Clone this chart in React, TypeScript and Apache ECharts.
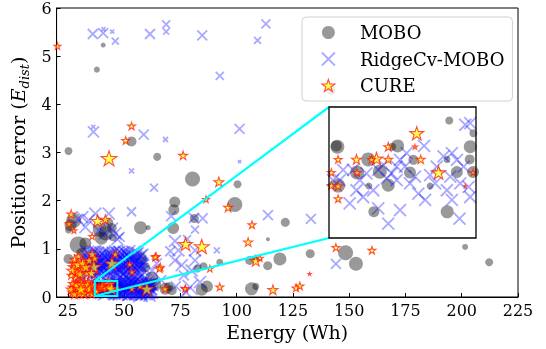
import React, { useEffect, useRef } from 'react';
import * as echarts from 'echarts';

const xTicks = [25, 50, 75, 100, 125, 150, 175, 200, 225];
const yTicks = [0, 1, 2, 3, 4, 5, 6];
const xRange = [20, 225];
const yRange = [0, 6];
const zoomX = [37, 47];
const zoomY = [0.02, 0.33];
const seriesNames = ['MOBO', 'RidgeCv-MOBO', 'CURE'];

// [energy, position error, marker size]
const moboPoints = [
  [40.7, 5.23, 5], [37.9, 4.72, 6], [25.3, 3.03, 8], [53.3, 3.23, 10], [64.7, 2.91, 8],
  [80.4, 2.45, 15], [100.4, 2.34, 8], [99.2, 1.92, 15], [72.5, 1.97, 11], [72.1, 1.81, 11],
  [71.8, 1.43, 12], [57.3, 1.44, 13], [60.7, 1.44, 5], [81.2, 1.63, 9], [121.6, 1.55, 9],
  [113.9, 1.2, 4], [132.7, 0.9, 9], [148.4, 0.92, 15], [153.0, 0.69, 14], [201.5, 1.04, 6],
  [212.2, 0.72, 8], [119.2, 0.79, 13], [113.8, 0.65, 9], [92.5, 0.72, 7], [105.8, 0.76, 9],
  [108.4, 0.81, 6], [85.3, 0.64, 8], [82.5, 0.59, 8], [106.6, 0.17, 13], [108.5, 0.22, 7],
  [84.5, 0.15, 12], [86.8, 0.22, 12], [68.4, 0.17, 12], [69.9, 0.22, 9], [62.2, 0.39, 13],
  [63.8, 0.26, 12], [58.4, 0.1, 9], [57.6, 0.8, 12], [29.6, 1.08, 17], [27.6, 1.59, 15],
  [25.3, 0.79, 10], [25.3, 1.39, 7], [39.2, 1.39, 14], [39.9, 1.22, 13], [43.0, 1.54, 10],
  [44.5, 1.43, 10], [45.0, 1.24, 8], [31.2, 0.91, 11], [34.5, 0.7, 12], [32.8, 1.11, 12],
  [41.7, 1.32, 14], [59.4, 0.62, 10], [61.6, 0.21, 12], [71.2, 0.14, 10], [141.9, 4.29, 9],
  [26.2, 1.49, 12], [31.0, 0.4, 9],
  [45.18, 0.298, 8], [46.82, 0.268, 8], [37.57, 0.236, 14], [37.5, 0.238, 11], [41.67, 0.238, 13],
  [41.3, 0.236, 8], [46.61, 0.236, 13], [39.67, 0.206, 14], [40.46, 0.177, 14], [38.91, 0.175, 14],
  [42.51, 0.175, 12], [42.74, 0.205, 10], [45.02, 0.206, 7], [46.57, 0.206, 10], [45.7, 0.176, 12],
  [46.8, 0.176, 12], [37.62, 0.144, 14], [39.71, 0.143, 7], [41.03, 0.145, 13], [43.88, 0.143, 7],
  [40.05, 0.082, 11], [45.04, 0.082, 13],
];

const ridgePoints = [
  [36.1, 5.46, 10], [40.7, 5.48, 10], [40.8, 5.56, 4], [44.7, 5.51, 4], [46.1, 5.31, 7],
  [61.5, 5.46, 10], [68.7, 5.66, 8], [68.7, 5.51, 6], [84.7, 5.43, 10], [92.5, 4.59, 8],
  [109.3, 5.33, 7], [113.0, 5.67, 9], [36.4, 3.43, 11], [36.3, 3.53, 4], [58.7, 3.37, 10],
  [68.4, 3.27, 5], [101.3, 3.49, 10], [53.3, 2.62, 5], [63.3, 2.27, 8], [101.3, 2.81, 3],
  [53.3, 1.77, 9], [70.9, 1.68, 10], [81.0, 1.64, 10], [84.9, 1.63, 10], [113.9, 1.7, 10],
  [133.0, 1.62, 10], [144.1, 0.69, 10], [91.2, 0.97, 6],
  [31.4, 1.66, 12], [34.3, 1.59, 12], [32.8, 1.45, 12], [37.2, 1.73, 12], [43.2, 1.73, 12],
  [44.6, 1.42, 12], [46.1, 1.32, 12], [47.0, 1.2, 12], [41.5, 1.32, 12], [38.8, 1.38, 12],
  [29.5, 1.62, 10], [48.0, 1.25, 10],
  [33.5, 0.85, 13], [35.0, 0.75, 13], [36.5, 0.88, 13], [37.5, 0.65, 13], [38.5, 0.8, 13],
  [39.5, 0.55, 13], [40.0, 0.9, 13], [41.0, 0.7, 13], [42.0, 0.82, 13], [43.0, 0.6, 13],
  [43.5, 0.9, 13], [44.5, 0.78, 13], [45.5, 0.55, 13], [46.5, 0.72, 13], [47.5, 0.85, 13],
  [48.5, 0.62, 13], [49.0, 0.78, 13], [50.0, 0.5, 13], [51.0, 0.7, 13], [52.0, 0.85, 13],
  [53.0, 0.6, 13], [54.0, 0.75, 13], [55.0, 0.55, 13], [56.0, 0.8, 13], [57.0, 0.65, 13],
  [34.5, 0.62, 13], [38.0, 0.5, 12], [41.5, 0.5, 12], [46.0, 0.95, 12], [50.5, 0.92, 12],
  [53.5, 0.45, 11], [55.5, 0.9, 11], [58.5, 0.72, 10],
  [33.8, 0.68, 12], [34.8, 0.92, 12], [35.6, 0.55, 12], [36.2, 0.78, 12], [37.0, 0.95, 12],
  [37.8, 0.72, 12], [38.8, 0.6, 12], [39.2, 0.86, 12], [40.4, 0.66, 12], [41.3, 0.92, 12],
  [42.4, 0.56, 12], [42.8, 0.74, 12], [43.8, 0.84, 12], [44.2, 0.64, 12], [45.0, 0.92, 12],
  [45.8, 0.68, 12], [46.8, 0.58, 12], [47.2, 0.78, 12], [48.0, 0.94, 12], [48.8, 0.52, 12],
  [49.6, 0.66, 12], [50.2, 0.84, 12], [51.4, 0.58, 12], [51.8, 0.76, 12], [52.6, 0.5, 12],
  [53.4, 0.88, 12], [54.4, 0.62, 12], [55.2, 0.74, 12], [56.4, 0.6, 12], [57.4, 0.86, 12],
  [32.5, 0.62, 12], [33.2, 0.78, 12], [34.1, 0.48, 12], [35.3, 0.66, 12], [36.0, 0.94, 12],
  [36.8, 0.52, 12], [37.4, 0.84, 12], [38.2, 0.69, 12], [39.0, 0.47, 12], [39.8, 0.77, 12],
  [40.6, 0.58, 12], [41.6, 0.83, 12], [42.2, 0.68, 12], [43.2, 0.51, 12], [43.9, 0.72, 12],
  [44.8, 0.87, 12], [45.3, 0.63, 12], [46.2, 0.49, 12], [46.9, 0.91, 12], [47.8, 0.69, 12],
  [48.3, 0.82, 12], [49.3, 0.58, 12], [49.9, 0.93, 12], [50.7, 0.64, 12], [51.6, 0.86, 12],
  [52.3, 0.71, 12], [53.1, 0.53, 12], [53.8, 0.81, 12], [54.7, 0.69, 12], [55.6, 0.47, 12],
  [56.1, 0.91, 12], [56.9, 0.73, 12], [57.7, 0.58, 12], [58.2, 0.88, 12], [55.9, 0.64, 12],
  [50.9, 0.54, 12], [44.1, 0.57, 12], [39.9, 0.64, 12], [36.9, 0.71, 12], [34.0, 0.8, 12],
  [33.0, 0.55, 14], [33.6, 0.92, 14], [34.6, 0.7, 14], [35.2, 0.86, 14], [35.9, 0.6, 14],
  [36.6, 0.46, 14], [37.2, 0.76, 14], [37.9, 0.9, 14], [38.6, 0.52, 14], [39.4, 0.7, 14],
  [40.2, 0.82, 14], [40.8, 0.48, 14], [41.8, 0.62, 14], [42.6, 0.91, 14], [43.4, 0.78, 14],
  [44.0, 0.46, 14], [44.9, 0.66, 14], [45.6, 0.81, 14], [46.4, 0.61, 14], [47.0, 0.5, 14],
  [47.9, 0.58, 14], [48.6, 0.9, 14], [49.5, 0.47, 14], [50.3, 0.73, 14], [51.1, 0.62, 14],
  [51.9, 0.93, 14], [52.8, 0.79, 14], [53.6, 0.66, 14], [54.2, 0.92, 14], [55.0, 0.82, 14],
  [55.8, 0.56, 14], [56.6, 0.68, 14], [57.3, 0.5, 14], [58.0, 0.64, 14],
  [47.5, 0.25, 13], [48.5, 0.12, 13], [49.5, 0.2, 13], [50.5, 0.08, 13], [51.5, 0.28, 13],
  [52.5, 0.15, 13], [53.5, 0.22, 13], [54.5, 0.1, 13], [55.5, 0.26, 13], [56.5, 0.14, 13],
  [57.5, 0.2, 13], [58.5, 0.28, 12], [59.5, 0.12, 12], [60.5, 0.24, 12], [61.5, 0.08, 11],
  [48.0, 0.33, 12], [52.0, 0.35, 12], [56.0, 0.36, 12], [36.0, 0.28, 12], [35.0, 0.12, 12],
  [45.0, 0.38, 12], [41.0, 0.4, 12], [38.5, 0.37, 12],
  [47.2, 0.14, 12], [48.2, 0.22, 12], [49.0, 0.06, 12], [49.8, 0.28, 12], [50.8, 0.18, 12],
  [51.2, 0.1, 12], [52.2, 0.26, 12], [53.0, 0.08, 12], [53.8, 0.3, 12], [54.8, 0.18, 12],
  [55.8, 0.06, 12], [56.2, 0.28, 12], [57.2, 0.12, 12], [58.0, 0.24, 12], [59.0, 0.18, 12],
  [60.0, 0.06, 12], [61.0, 0.28, 12], [62.0, 0.16, 12],
  [47.6, 0.05, 12], [48.7, 0.17, 12], [49.3, 0.31, 12], [50.1, 0.13, 12], [50.9, 0.24, 12],
  [51.8, 0.04, 12], [52.7, 0.2, 12], [53.3, 0.13, 12], [54.1, 0.26, 12], [54.9, 0.05, 12],
  [55.3, 0.15, 12], [56.0, 0.22, 12], [56.8, 0.07, 12], [57.6, 0.29, 12], [58.3, 0.11, 12],
  [58.8, 0.2, 12], [59.6, 0.27, 12], [60.3, 0.14, 12], [60.8, 0.21, 12], [61.3, 0.03, 12],
  [61.8, 0.25, 12], [62.4, 0.09, 12], [48.0, 0.28, 12], [52.9, 0.31, 12], [57.9, 0.05, 12],
  [47.4, 0.2, 14], [48.1, 0.09, 14], [48.9, 0.27, 14], [49.7, 0.1, 14], [50.4, 0.3, 14],
  [51.0, 0.19, 14], [51.7, 0.14, 14], [52.4, 0.07, 14], [53.2, 0.25, 14], [53.9, 0.16, 14],
  [54.6, 0.3, 14], [55.1, 0.09, 14], [55.9, 0.18, 14], [56.6, 0.25, 14], [57.3, 0.04, 14],
  [58.1, 0.17, 14], [58.7, 0.08, 14], [59.3, 0.23, 14], [60.1, 0.3, 14], [60.6, 0.1, 14],
  [61.4, 0.19, 14], [62.1, 0.27, 14],
  [48.5, 0.4, 12], [51.0, 0.44, 12], [54.0, 0.38, 12], [57.0, 0.42, 12], [59.5, 0.36, 12],
  [72.6, 1.16, 12], [74.1, 0.97, 12], [72.6, 0.76, 12], [81.5, 0.97, 12], [81.5, 0.76, 12],
  [75.6, 0.66, 12], [80.0, 0.55, 12], [83.7, 0.31, 12], [79.3, 0.2, 15], [77.5, 0.1, 12],
  [73.0, 0.22, 10], [76.5, 0.45, 10], [70.5, 0.95, 10], [78.0, 1.2, 8], [81.5, 1.4, 8],
  [66.5, 0.35, 10], [64.5, 0.7, 10], [62.5, 0.55, 10],
  [46.27, 0.288, 12], [46.61, 0.292, 12], [43.47, 0.238, 12], [42.28, 0.221, 12], [41.83, 0.205, 12],
  [41.6, 0.189, 12], [41.26, 0.173, 12], [40.92, 0.161, 12], [40.69, 0.193, 12], [40.35, 0.181, 12],
  [39.55, 0.173, 12], [39.1, 0.157, 12], [38.64, 0.181, 12], [37.96, 0.181, 12], [37.73, 0.157, 12],
  [37.27, 0.157, 12], [38.41, 0.102, 12], [38.87, 0.133, 12], [39.32, 0.117, 12], [41.03, 0.054, 12],
  [41.83, 0.086, 12], [40.35, 0.09, 12], [43.08, 0.125, 12], [43.54, 0.11, 12], [42.51, 0.149, 12],
  [42.85, 0.165, 12], [43.88, 0.169, 12], [44.33, 0.189, 12], [44.79, 0.213, 12], [45.36, 0.221, 12],
  [45.7, 0.205, 12], [46.16, 0.189, 12], [45.25, 0.165, 12], [45.02, 0.133, 12], [45.36, 0.11, 12],
  [45.88, 0.066, 12], [46.61, 0.117, 12], [46.5, 0.141, 12], [45.93, 0.149, 12], [44.22, 0.149, 12],
  [41.6, 0.157, 12], [42.17, 0.189, 12], [40.01, 0.133, 12],
];

const curePoints = [
  [20.4, 5.21, 7], [43.3, 2.88, 16], [53.3, 3.55, 8], [50.7, 3.25, 8], [76.2, 2.94, 9],
  [92.1, 2.39, 10], [86.4, 2.03, 7], [96.2, 1.86, 9], [77.3, 1.1, 14], [84.5, 1.05, 15],
  [92.5, 0.21, 8], [116.1, 0.15, 10], [126.4, 0.19, 8], [128.1, 0.23, 8], [106.8, 1.5, 8],
  [105.1, 1.14, 9], [108.5, 0.75, 11], [110.3, 0.81, 7], [88.1, 0.59, 7], [77.2, 0.18, 6],
  [66.1, 0.62, 8], [64.2, 0.84, 8], [65.7, 0.59, 8], [132.4, 0.48, 3], [144.1, 1.03, 8],
  [160.1, 0.97, 8],
  [26.5, 1.72, 9], [25.5, 1.52, 8], [27.7, 1.38, 6], [38.2, 1.58, 13], [41.7, 1.61, 10],
  [35.8, 1.26, 7],
  [28.4, 0.62, 15], [31.0, 0.58, 12], [36.5, 0.63, 15], [35.8, 0.89, 11], [29.0, 0.5, 10],
  [33.5, 0.5, 9], [27.5, 0.7, 9], [44.6, 0.7, 14], [46.1, 0.89, 8], [53.5, 0.52, 7],
  [63.8, 0.83, 8], [28.4, 0.39, 8], [32.0, 0.75, 8], [52.5, 0.68, 7],
  [27.0, 0.55, 11], [28.0, 0.78, 9], [29.5, 0.68, 12], [30.5, 0.48, 10], [31.5, 0.7, 11],
  [33.0, 0.62, 12], [34.5, 0.76, 10], [35.5, 0.5, 11], [37.0, 0.8, 9], [29.8, 0.85, 8],
  [26.5, 0.45, 8],
  [27.5, 0.2, 11], [29.0, 0.12, 12], [29.9, 0.22, 14], [31.5, 0.15, 12], [33.2, 0.18, 13],
  [34.5, 0.1, 11], [35.5, 0.24, 12], [27.0, 0.1, 9], [30.5, 0.3, 10], [32.5, 0.28, 10],
  [36.0, 0.14, 9], [28.5, 0.28, 9], [34.0, 0.32, 8],
  [26.5, 0.16, 10], [28.0, 0.06, 10], [28.8, 0.24, 12], [30.2, 0.08, 11], [31.0, 0.26, 12],
  [32.0, 0.08, 11], [32.8, 0.2, 12], [33.8, 0.26, 10], [34.8, 0.18, 12], [35.8, 0.06, 9],
  [36.4, 0.22, 10], [30.8, 0.16, 13], [27.0, 0.28, 8],
  [60.1, 0.17, 14], [68.2, 0.17, 8], [77.1, 0.17, 7], [53.5, 0.17, 7], [57.0, 0.22, 7],
  [42.97, 0.268, 14], [41.03, 0.236, 9], [42.85, 0.236, 5], [37.62, 0.206, 8], [38.87, 0.206, 10],
  [40.23, 0.208, 13], [41.03, 0.206, 9], [39.9, 0.206, 8], [43.24, 0.206, 9], [38.91, 0.175, 8],
  [37.16, 0.175, 8], [44.45, 0.175, 14], [46.8, 0.175, 6], [37.62, 0.143, 9], [37.16, 0.144, 8],
  [37.62, 0.113, 8], [46.27, 0.143, 3],
];

const FONT = 'DejaVu Serif';
const STAR = 'path://M50,0L61.2,34.5L97.6,34.5L68.2,55.9L79.4,90.5L50,69.1L20.6,90.5L31.8,55.9L2.4,34.5L38.8,34.5Z';
const CROSS = 'path://M0,0L10,10M10,0L0,10';

const INSET = { left: 329, top: 107, width: 147, height: 131 };

const moboStyle = { color: 'rgba(0,0,0,0.5)' };
const ridgeStyle = { color: 'rgba(0,0,0,0)', borderColor: 'rgba(0,0,255,0.42)', borderWidth: 1.8 };
const cureStyle = { color: 'rgba(255,255,0,0.85)', borderColor: 'rgba(255,0,0,0.85)', borderWidth: 1.1 };

function makeSeries(gridIdx: number) {
  const suffix = gridIdx === 0 ? '' : ' (zoom)';
  const z = gridIdx === 0 ? 2 : 5;
  const common = {
    type: 'scatter',
    xAxisIndex: gridIdx,
    yAxisIndex: gridIdx,
    symbolSize: (v: number[]) => v[2],
    emphasis: { disabled: true },
    silent: true,
    clip: true,
    z,
  };
  return [
    { ...common, name: seriesNames[0] + suffix, symbol: 'circle', itemStyle: moboStyle, data: moboPoints },
    { ...common, name: seriesNames[1] + suffix, symbol: CROSS, itemStyle: ridgeStyle, data: ridgePoints },
    { ...common, name: seriesNames[2] + suffix, symbol: STAR, symbolKeepAspect: true, itemStyle: cureStyle, data: curePoints },
  ];
}

export default function App() {
  const ref = useRef<HTMLDivElement>(null);
  useEffect(() => {
    if (!ref.current) return;
    const chart = echarts.init(ref.current, null, { renderer: 'svg' });
    const option: any = {
      animation: false,
      grid: [
        { left: 54, top: 7, right: 28, bottom: 52, show: true, borderColor: '#000', borderWidth: 1, backgroundColor: 'transparent' },
        { left: INSET.left, top: INSET.top, width: INSET.width, height: INSET.height, show: true, backgroundColor: '#fff', borderWidth: 0, z: 3 },
      ],
      xAxis: [
        {
          gridIndex: 0, type: 'value', min: xRange[0], max: xRange[1],
          axisLine: { show: true, lineStyle: { color: '#000', width: 1 } },
          axisTick: { show: true, inside: true, length: 4, customValues: xTicks, lineStyle: { color: '#000' } },
          axisLabel: { customValues: xTicks, fontFamily: FONT, fontSize: 16, color: '#000', margin: 5 },
          splitLine: { show: false },
          name: 'Energy (Wh)', nameLocation: 'middle', nameGap: 25,
          nameTextStyle: { fontFamily: FONT, fontSize: 19, color: '#000' },
        },
        { gridIndex: 1, type: 'value', min: zoomX[0], max: zoomX[1], show: false },
      ],
      yAxis: [
        {
          gridIndex: 0, type: 'value', min: yRange[0], max: yRange[1], interval: 1,
          axisLine: { show: true, lineStyle: { color: '#000', width: 1 } },
          axisTick: { show: true, inside: true, length: 4, customValues: yTicks, lineStyle: { color: '#000' } },
          axisLabel: { customValues: yTicks, fontFamily: FONT, fontSize: 16, color: '#000', margin: 5 },
          splitLine: { show: false },
          name: '{n|Position error (}{e|E}{s|dist}{n|)}', nameLocation: 'middle', nameGap: 13, nameRotate: 90,
          nameTextStyle: {
            fontFamily: FONT, fontSize: 19, color: '#000',
            rich: {
              n: { fontFamily: FONT, fontSize: 19, color: '#000', lineHeight: 26, verticalAlign: 'middle' },
              e: { fontFamily: FONT, fontSize: 19, color: '#000', fontStyle: 'italic', lineHeight: 26, verticalAlign: 'middle' },
              s: { fontFamily: FONT, fontSize: 13, color: '#000', fontStyle: 'italic', lineHeight: 13, verticalAlign: 'bottom' },
            },
          },
        },
        { gridIndex: 1, type: 'value', min: zoomY[0], max: zoomY[1], show: false },
      ],
      legend: {
        data: [
          { name: seriesNames[0], icon: 'circle', itemStyle: moboStyle },
          { name: seriesNames[1], icon: CROSS, itemStyle: ridgeStyle },
          { name: seriesNames[2], icon: STAR, itemStyle: cureStyle },
        ],
        orient: 'vertical', left: 302, top: 17,
        itemWidth: 13, itemHeight: 13, itemGap: 7.5,
        padding: [6, 8, 6, 19],
        backgroundColor: 'rgba(255,255,255,0.8)', borderColor: '#d0d0d0', borderWidth: 1, borderRadius: 4,
        textStyle: { fontFamily: FONT, fontSize: 18, color: '#000', lineHeight: 19, padding: [0, 0, 0, 20] },
        selectedMode: false,
        z: 8,
      },
      series: [...makeSeries(0), ...makeSeries(1)],
    };
    chart.setOption(option);

    const tl = chart.convertToPixel({ gridIndex: 0 }, [zoomX[0], zoomY[1]]) as number[];
    const br = chart.convertToPixel({ gridIndex: 0 }, [zoomX[1], zoomY[0]]) as number[];
    chart.setOption({
      graphic: [
        {
          type: 'rect', z: 20, silent: true,
          shape: { x: tl[0], y: tl[1], width: br[0] - tl[0], height: br[1] - tl[1] },
          style: { fill: 'none', stroke: '#00ffff', lineWidth: 2 },
        },
        {
          type: 'line', z: 20, silent: true,
          shape: { x1: tl[0], y1: tl[1], x2: INSET.left, y2: INSET.top },
          style: { stroke: '#00ffff', lineWidth: 2.2 },
        },
        {
          type: 'line', z: 20, silent: true,
          shape: { x1: tl[0], y1: br[1], x2: INSET.left, y2: INSET.top + INSET.height },
          style: { stroke: '#00ffff', lineWidth: 2.2 },
        },
        {
          type: 'rect', z: 20, silent: true,
          shape: { x: INSET.left, y: INSET.top, width: INSET.width, height: INSET.height },
          style: { fill: 'none', stroke: '#000', lineWidth: 1.3 },
        },
      ],
    });
    return () => chart.dispose();
  }, []);
  return <div ref={ref} style={{ position: 'fixed', left: 0, top: 0, width: 546, height: 349 }} />;
}
